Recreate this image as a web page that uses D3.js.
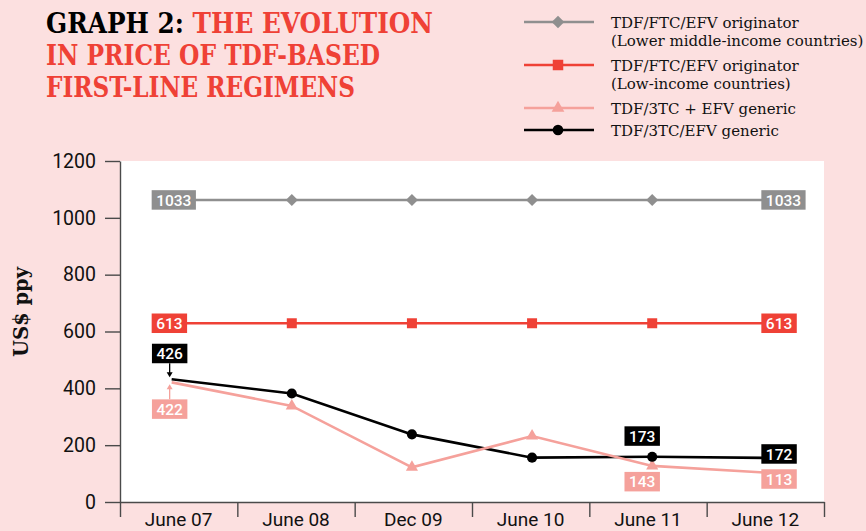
<!DOCTYPE html>
<html>
<head>
<meta charset="utf-8">
<script src="https://cdn.jsdelivr.net/npm/d3@7"></script>
<style>
  html, body { margin: 0; padding: 0; background: #fce0e0; }
  svg { display: block; }
</style>
</head>
<body>
<div id="chart"></div>
<script>
// Price of TDF-based first-line regimens - line chart with value tags

const categories = ['June 07', 'June 08', 'Dec 09', 'June 10', 'June 11', 'June 12'];
const yTicks = [0, 200, 400, 600, 800, 1000, 1200];

// plotted positions (the printed tags are below)
const originatorLMIC = [1063, 1063, 1063, 1063, 1063, 1063];
const originatorLIC = [629, 629, 629, 629, 629, 629];
const genericSeparate = [421, 338, 122, 232, 127, 102];
const genericFixedDose = [432, 382, 238, 156, 159, 155];

const seriesNames = [
    ['TDF/FTC/EFV originator', '(Lower middle-income countries)'],
    ['TDF/FTC/EFV originator', '(Low-income countries)'],
    ['TDF/3TC + EFV generic'],
    ['TDF/3TC/EFV generic']
];

// printed value tags: series index, category index, text, placement
const tagSeries = [0, 0, 1, 1, 3, 2, 3, 2, 3, 2];
const tagIndex = [0, 5, 0, 5, 0, 0, 4, 4, 5, 5];
const tagText = ['1033', '1033', '613', '613', '426', '422', '173', '143', '172', '113'];
const tagPlace = ['start', 'end', 'start', 'end', 'pointerAbove', 'pointerBelow', 'above', 'below', 'endAbove', 'endBelow'];

function createPriceChart(containerId) {
    const totalWidth = 866;
    const totalHeight = 531;
    const plot = { left: 120, right: 824, top: 161, bottom: 502 };

    const series = [originatorLMIC, originatorLIC, genericSeparate, genericFixedDose];
    const colors = ['#8f8f8f', '#ef4136', '#f5a19b', '#000000'];
    const symbols = [d3.symbolSquare, d3.symbolSquare, d3.symbolTriangle, d3.symbolCircle];
    const symbolSizes = [72, 100, 64, 80];
    const symbolRotate = [45, 0, 0, 0];
    const axisColor = '#4a4a4a';
    const sans = 'Roboto, "Noto Sans", sans-serif';
    const serif = '"DejaVu Serif", "Liberation Serif", serif';

    d3.select(`#${containerId}`).selectAll('*').remove();

    const svg = d3.select(`#${containerId}`)
        .append('svg')
        .attr('width', totalWidth)
        .attr('height', totalHeight);

    svg.append('rect')
        .attr('width', totalWidth)
        .attr('height', totalHeight)
        .attr('fill', '#fce0e0');

    // Title
    const title = svg.append('g')
        .attr('font-family', serif)
        .attr('font-weight', 'bold')
        .attr('font-size', 27)
        .attr('fill', '#ef4136');
    const t1 = title.append('text').attr('x', 46).attr('y', 33).attr('textLength', 387).attr('lengthAdjust', 'spacingAndGlyphs');
    t1.append('tspan').attr('fill', '#000').text('GRAPH 2: ');
    t1.append('tspan').text('THE EVOLUTION');
    title.append('text').attr('x', 46).attr('y', 65).attr('textLength', 334).attr('lengthAdjust', 'spacingAndGlyphs')
        .text('IN PRICE OF TDF-BASED');
    title.append('text').attr('x', 46).attr('y', 97).attr('textLength', 309).attr('lengthAdjust', 'spacingAndGlyphs')
        .text('FIRST-LINE REGIMENS');

    // Scales
    const y = d3.scaleLinear().domain([0, 1200]).range([plot.bottom, plot.top]);
    const xBand = d3.scaleBand().domain(categories).range([plot.left, plot.right]);
    const xPoint = d3.scalePoint().domain(categories).range([plot.left, plot.right]).padding(0.43);
    const xEdge = d3.scaleLinear().domain([0, categories.length]).range([plot.left, plot.right]);

    // Plot background
    svg.append('rect')
        .attr('x', plot.left)
        .attr('y', plot.top)
        .attr('width', plot.right - plot.left)
        .attr('height', plot.bottom - plot.top)
        .attr('fill', '#fff');

    // Y axis
    const yAxis = svg.append('g')
        .attr('transform', `translate(${plot.left},0)`)
        .call(d3.axisLeft(y).tickValues(yTicks).tickFormat(d3.format('d'))
            .tickSize(15).tickPadding(9).tickSizeOuter(0));
    yAxis.selectAll('path, line').attr('stroke', axisColor).attr('stroke-width', 1.4);
    yAxis.selectAll('text')
        .attr('fill', '#111')
        .style('font-family', sans)
        .style('font-size', '19.5px');

    // X axis: category labels at band centres, ticks at band edges
    const xAxis = svg.append('g')
        .attr('transform', `translate(0,${plot.bottom})`)
        .call(d3.axisBottom(xBand).tickSize(0).tickPadding(11).tickSizeOuter(0));
    xAxis.select('path').attr('stroke', axisColor).attr('stroke-width', 1.4);
    xAxis.selectAll('text')
        .attr('fill', '#111')
        .style('font-family', sans)
        .style('font-size', '19px');

    const xTicks = svg.append('g')
        .attr('transform', `translate(0,${plot.bottom})`)
        .call(d3.axisBottom(xEdge).tickValues(d3.range(categories.length + 1)).tickSize(15).tickFormat(''));
    xTicks.select('path').remove();
    xTicks.selectAll('line').attr('stroke', axisColor).attr('stroke-width', 1.4);

    // Y axis title
    svg.append('text')
        .attr('transform', `translate(28,312) rotate(-90)`)
        .attr('text-anchor', 'middle')
        .attr('textLength', 90)
        .attr('lengthAdjust', 'spacingAndGlyphs')
        .style('font-family', serif)
        .style('font-weight', 'bold')
        .style('font-size', '20px')
        .attr('fill', '#111')
        .text('US$ ppy');

    // Lines
    const line = d3.line()
        .x((d, i) => xPoint(categories[i]))
        .y(d => y(d));

    const drawOrder = [0, 1, 3, 2];
    drawOrder.forEach(s => {
        svg.append('path')
            .datum(series[s])
            .attr('fill', 'none')
            .attr('stroke', colors[s])
            .attr('stroke-width', 2.6)
            .attr('d', line);
    });

    // Markers on inner points (ends carry tags)
    const markerOrder = [0, 1, 2, 3];
    markerOrder.forEach(s => {
        const sym = d3.symbol().type(symbols[s]).size(symbolSizes[s]);
        svg.append('g')
            .selectAll('path')
            .data(series[s].map((v, i) => ({ v, i })).filter(d => d.i > 0 && d.i < categories.length - 1))
            .enter()
            .append('path')
            .attr('d', sym)
            .attr('fill', colors[s])
            .attr('transform', d => `translate(${xPoint(categories[d.i])},${y(d.v)}) rotate(${symbolRotate[s]})`);
    });

    // Value tags
    const boxH = 19.5;
    tagText.forEach((txt, k) => {
        const s = tagSeries[k];
        const px = xPoint(categories[tagIndex[k]]);
        const py = y(series[s][tagIndex[k]]);
        const place = tagPlace[k];
        const g = svg.append('g');
        const label = g.append('text')
            .attr('text-anchor', 'middle')
            .attr('dy', '0.36em')
            .attr('fill', '#fff')
            .style('font-family', sans)
            .style('font-weight', 500)
            .style('font-size', '15.5px')
            .text(txt);
        const w = label.node().getComputedTextLength() + 9;

        let cx, cy;
        if (place === 'start') { cx = px - 20 + w / 2; cy = py; }
        else if (place === 'end') { cx = px - 11 + w / 2; cy = py; }
        else if (place === 'endAbove') { cx = px - 11 + w / 2; cy = py - 4; }
        else if (place === 'endBelow') { cx = px - 11 + w / 2; cy = py + 6; }
        else if (place === 'pointerAbove') { cx = px - 2; cy = py - 16 - boxH / 2; }
        else if (place === 'pointerBelow') { cx = px - 2; cy = py + 17 + boxH / 2; }
        else if (place === 'above') { cx = px - 10; cy = py - 11 - boxH / 2; }
        else { cx = px - 10; cy = py + 6 + boxH / 2; }

        g.insert('rect', 'text')
            .attr('x', cx - w / 2)
            .attr('y', cy - boxH / 2)
            .attr('width', w)
            .attr('height', boxH)
            .attr('fill', colors[s]);
        label.attr('x', cx).attr('y', cy);

        // small pointer arrows for the first generic prices
        if (place === 'pointerAbove' || place === 'pointerBelow') {
            const dir = place === 'pointerAbove' ? 1 : -1;
            const y0 = cy + dir * boxH / 2;
            const tip = py - dir * 2;
            g.append('line')
                .attr('x1', cx).attr('x2', cx)
                .attr('y1', y0).attr('y2', tip - dir * 4)
                .attr('stroke', colors[s])
                .attr('stroke-width', 1.3);
            g.append('path')
                .attr('d', `M${cx - 3},${tip - dir * 5}L${cx + 3},${tip - dir * 5}L${cx},${tip}Z`)
                .attr('fill', colors[s]);
        }
    });

    // Legend
    const legend = svg.append('g').attr('transform', 'translate(524,0)');
    let rowY = 22;
    seriesNames.forEach((lines, s) => {
        const item = legend.append('g').attr('transform', `translate(0,${rowY})`);
        item.append('line')
            .attr('x1', 0).attr('x2', 70)
            .attr('stroke', colors[s])
            .attr('stroke-width', 2.6);
        item.append('path')
            .attr('d', d3.symbol().type(symbols[s]).size(symbolSizes[s] * 1.1))
            .attr('fill', colors[s])
            .attr('transform', `translate(34,0) rotate(${symbolRotate[s]})`);
        const text = item.append('text')
            .attr('x', 87)
            .attr('y', 6)
            .attr('fill', '#111')
            .style('font-family', serif)
            .style('font-size', '15px');
        lines.forEach((l, i) => {
            text.append('tspan').attr('x', 87).attr('dy', i === 0 ? 0 : 18).text(l);
        });
        rowY += 22 + (lines.length - 1) * 21;
    });
}

createPriceChart('chart');
</script>
</body>
</html>
